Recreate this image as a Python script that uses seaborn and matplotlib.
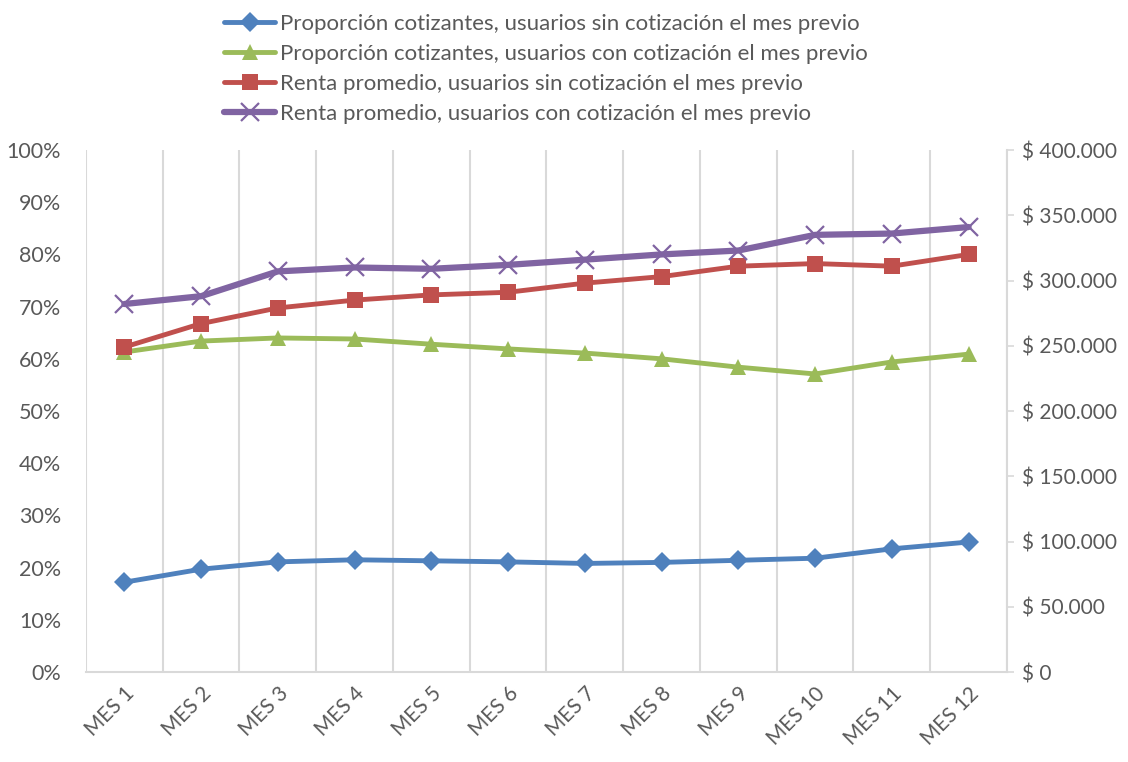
import matplotlib
matplotlib.use("Agg")
import matplotlib.pyplot as plt
import seaborn as sns
import pandas as pd
from matplotlib.ticker import FuncFormatter, MultipleLocator, FixedLocator

meses = ["MES 1", "MES 2", "MES 3", "MES 4", "MES 5", "MES 6",
         "MES 7", "MES 8", "MES 9", "MES 10", "MES 11", "MES 12"]
prop_sin = [17.2, 19.7, 21.1, 21.5, 21.3, 21.1, 20.8, 21.0, 21.4, 21.8, 23.6, 24.9]
prop_con = [61.3, 63.4, 64.0, 63.8, 62.8, 61.9, 61.1, 60.0, 58.4, 57.1, 59.4, 60.9]
renta_sin = [249000, 267000, 279000, 285000, 289000, 291000, 298000, 303000, 311000, 313000, 311000, 320000]
renta_con = [282000, 288000, 307000, 310000, 309000, 312000, 316000, 320000, 323000, 335000, 336000, 341000]

labels = ["Proporción cotizantes, usuarios sin cotización el mes previo",
          "Proporción cotizantes, usuarios con cotización el mes previo",
          "Renta promedio, usuarios sin cotización el mes previo",
          "Renta promedio, usuarios con cotización el mes previo"]

sns.set_theme(style="white")
plt.rcParams["font.family"] = ["Lato", "DejaVu Sans"]
txt = "#595959"
grid = "#D9D9D9"

df = pd.DataFrame({"mes": meses, "ps": prop_sin, "pc": prop_con, "rs": renta_sin, "rc": renta_con})
x = list(range(len(meses)))
df["x"] = x

fig = plt.figure(figsize=(11.28, 7.62), dpi=100)
ax = fig.add_axes([0.0762, 0.1181, 0.8165, 0.685])
ax2 = ax.twinx()

sns.lineplot(data=df, x="x", y="ps", ax=ax, color="#4F81BD", lw=3.5, marker="D",
             markersize=10, markeredgewidth=0, label=labels[0], legend=False)
sns.lineplot(data=df, x="x", y="pc", ax=ax, color="#9BBB59", lw=3.5, marker="^",
             markersize=12, markeredgewidth=0, label=labels[1], legend=False)
sns.lineplot(data=df, x="x", y="rs", ax=ax2, color="#C0504D", lw=3.5, marker="s",
             markersize=11, markeredgewidth=0, label=labels[2], legend=False)
sns.lineplot(data=df, x="x", y="rc", ax=ax2, color="#8064A2", lw=4.5, marker="x",
             markersize=13, markeredgewidth=1.6, markeredgecolor="#8064A2",
             label=labels[3], legend=False)

ax.set_xlim(-0.5, 11.5)
ax.set_ylim(0, 100)
ax2.set_ylim(0, 400000)
ax.yaxis.set_major_locator(MultipleLocator(10))
ax.yaxis.set_major_formatter(FuncFormatter(lambda v, p: f"{int(round(v))}%"))
ax2.yaxis.set_major_locator(MultipleLocator(50000))
ax2.yaxis.set_major_formatter(FuncFormatter(lambda v, p: "$ " + f"{int(v):,}".replace(",", ".")))

ax.set_xticks(x)
ax.set_xticklabels(meses, rotation=45, ha="right", rotation_mode="anchor")
ax.xaxis.set_minor_locator(FixedLocator([i + 0.5 for i in range(-1, 12)]))
ax.grid(False)
ax2.grid(False)
ax.grid(True, which="minor", axis="x", color=grid, lw=1.5)
ax.tick_params(axis="x", which="major", length=0, labelsize=15, colors=txt, pad=8)
ax.tick_params(axis="x", which="minor", length=0)
ax.tick_params(axis="y", length=0, labelsize=15.5, colors=txt, pad=18)
ax2.tick_params(axis="y", length=5, width=1.2, labelsize=15, colors=txt, pad=6)
ax2.tick_params(axis="y", color=grid)

for a in (ax, ax2):
    for s in a.spines.values():
        s.set_visible(False)
ax.spines["bottom"].set_visible(True)
ax.spines["bottom"].set_color(grid)
ax.spines["bottom"].set_linewidth(1.5)
ax2.spines["right"].set_visible(True)
ax2.spines["right"].set_color(grid)
ax2.spines["right"].set_linewidth(1.5)
ax.set_xlabel("")
ax.set_ylabel("")
ax2.set_ylabel("")

h1, l1 = ax.get_legend_handles_labels()
h2, l2 = ax2.get_legend_handles_labels()
leg = fig.legend(h1 + h2, l1 + l2, loc="upper center", bbox_to_anchor=(0.484, 1.008),
                 frameon=False, fontsize=16, handlelength=2.3, handletextpad=0.2,
                 labelspacing=0.45, labelcolor=txt)

fig.savefig("out.png", dpi=100)
